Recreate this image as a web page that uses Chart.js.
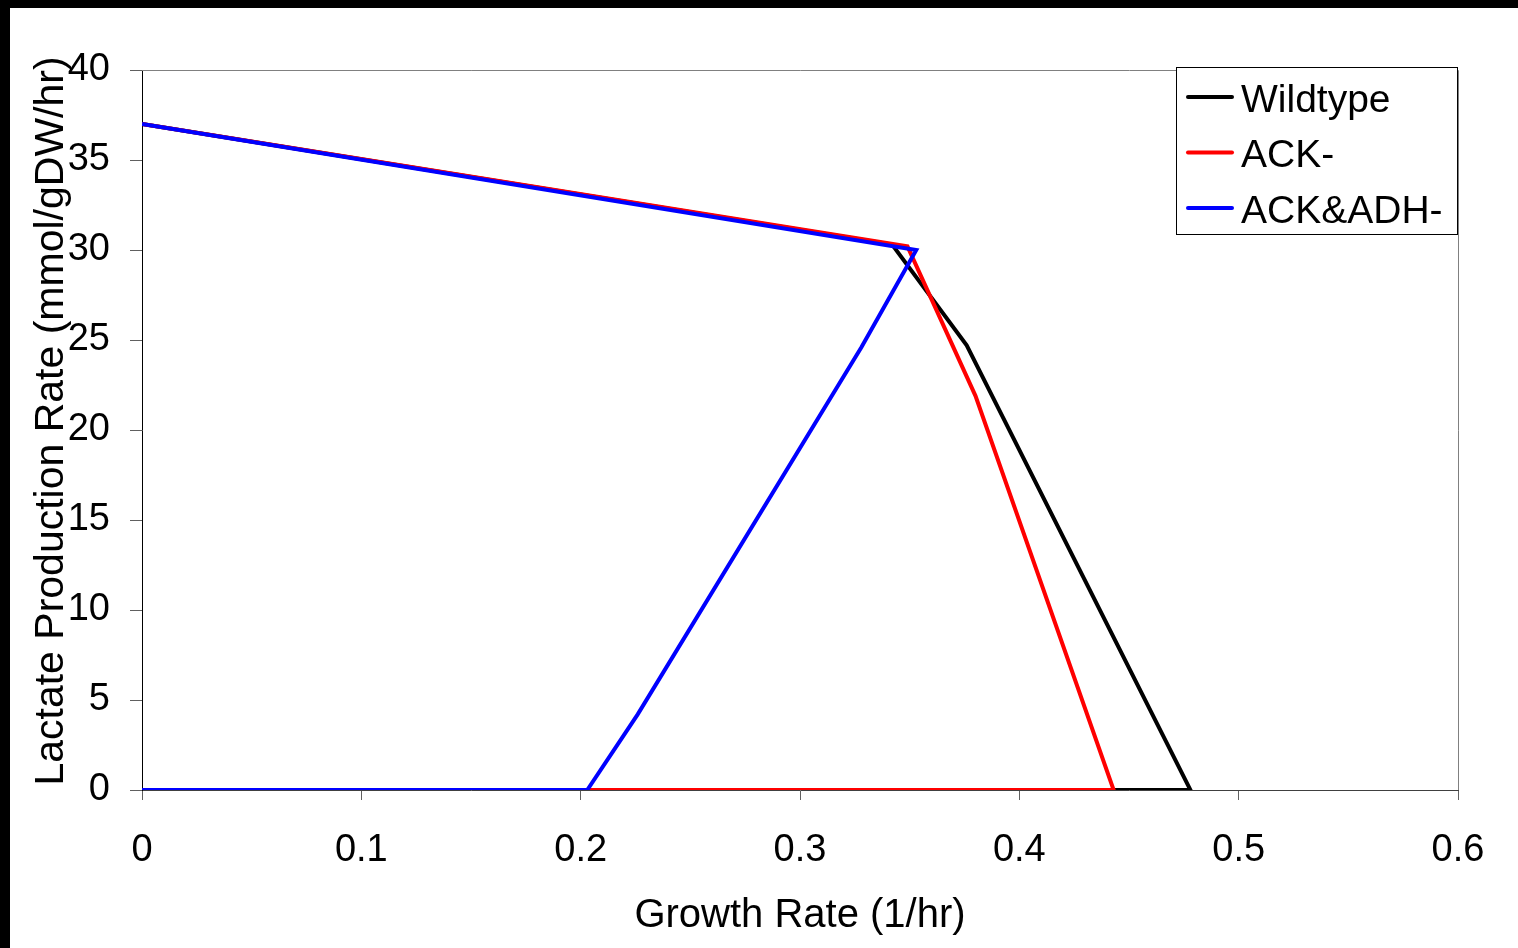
<!DOCTYPE html>
<html>
<head>
<meta charset="utf-8">
<script src="https://cdn.jsdelivr.net/npm/chart.js@4.4.0/dist/chart.umd.min.js"></script>
<style>
  html, body { margin: 0; padding: 0; background: #000; }
  #wrap { position: absolute; left: 10px; top: 8px; width: 1508px; height: 940px; background: #fff; }
</style>
</head>
<body>
<div id="wrap"><canvas id="phaseChart" width="1508" height="940"></canvas></div>
<script>
// Phenotype phase plane: lactate production vs growth rate
const seriesNames = ['Wildtype', 'ACK-', 'ACK&ADH-'];
const seriesColors = ['#000000', '#ff0000', '#0000ff'];

const wildX = [0, 0.342, 0.376, 0.478, 0];
const wildY = [37, 30.3, 24.7, 0, 0];
const ackX = [0, 0.349, 0.380, 0.443, 0];
const ackY = [37, 30.2, 21.9, 0, 0];
const ackAdhX = [0, 0.353, 0.328, 0.226, 0.203, 0];
const ackAdhY = [37, 30.0, 24.6, 4.2, 0, 0];

const xTickLabels = ['0', '0.1', '0.2', '0.3', '0.4', '0.5', '0.6'];
const yTickLabels = ['0', '5', '10', '15', '20', '25', '30', '35', '40'];
const yTitle = 'Lactate Production Rate (mmol/gDW/hr)';

const FONT = 'Liberation Sans, Arial, sans-serif';

function toPoints(xs, ys) {
  return xs.map((x, i) => ({ x: x, y: ys[i] }));
}

// grey frame on top/right of the plot area + rotated y title
const plotFrame = {
  id: 'plotFrame',
  afterDraw(chart) {
    const { ctx, chartArea: a } = chart;
    ctx.save();
    ctx.strokeStyle = '#808080';
    ctx.lineWidth = 1;
    ctx.beginPath();
    ctx.moveTo(a.left, a.top + 0.5);
    ctx.lineTo(a.right + 0.5, a.top + 0.5);
    ctx.lineTo(a.right + 0.5, a.bottom);
    ctx.stroke();

    ctx.translate(42, a.top + (a.bottom - a.top) / 2 - 9);
    ctx.rotate(-Math.PI / 2);
    ctx.font = '41px ' + FONT;
    ctx.fillStyle = '#000';
    ctx.textAlign = 'center';
    ctx.textBaseline = 'middle';
    ctx.fillText(yTitle, 0, 0);
    ctx.restore();
  }
};

const boxLegend = {
  id: 'boxLegend',
  afterDraw(chart) {
    const ctx = chart.ctx;
    const left = 1166, top = 59, w = 281, h = 167;
    ctx.save();
    ctx.fillStyle = '#fff';
    ctx.fillRect(left, top, w, h);
    ctx.strokeStyle = '#000';
    ctx.lineWidth = 1;
    ctx.strokeRect(left + 0.5, top + 0.5, w, h);
    ctx.font = '39px ' + FONT;
    ctx.textBaseline = 'middle';
    chart.data.datasets.forEach((ds, i) => {
      const cy = top + 30 + i * 55.5;
      ctx.strokeStyle = ds.borderColor;
      ctx.lineWidth = 4;
      ctx.lineCap = 'round';
      ctx.beginPath();
      ctx.moveTo(left + 12, cy);
      ctx.lineTo(left + 56, cy);
      ctx.stroke();
      ctx.fillStyle = '#000';
      ctx.fillText(ds.label, left + 65, cy + 4);
    });
    ctx.restore();
  }
};

const ctx = document.getElementById('phaseChart').getContext('2d');
new Chart(ctx, {
  type: 'line',
  data: {
    datasets: [
      { label: seriesNames[0], data: toPoints(wildX, wildY), borderColor: seriesColors[0], order: 2 },
      { label: seriesNames[1], data: toPoints(ackX, ackY), borderColor: seriesColors[1], order: 1 },
      { label: seriesNames[2], data: toPoints(ackAdhX, ackAdhY), borderColor: seriesColors[2], order: 0 }
    ]
  },
  options: {
    responsive: false,
    animation: false,
    elements: {
      line: { borderWidth: 4, tension: 0, borderJoinStyle: 'miter' },
      point: { radius: 0 }
    },
    layout: { padding: { left: 0, right: 60, top: 62, bottom: 0 } },
    scales: {
      x: {
        type: 'linear',
        min: 0,
        max: 0.6,
        afterFit(scale) { scale.height = 158; },
        ticks: {
          stepSize: 0.1,
          color: '#000',
          font: { family: FONT, size: 38 },
          padding: 28,
          maxRotation: 0,
          callback: (v, i) => xTickLabels[i]
        },
        grid: { drawOnChartArea: false, drawTicks: true, tickLength: 10, color: '#606060' },
        border: { color: '#404040', width: 1 },
        title: {
          display: true,
          text: 'Growth Rate (1/hr)',
          color: '#000',
          font: { family: FONT, size: 40 },
          padding: { top: 0, bottom: 8 }
        }
      },
      y: {
        min: 0,
        max: 40,
        afterFit(scale) { scale.width = 132; },
        ticks: {
          stepSize: 5,
          color: '#000',
          font: { family: FONT, size: 38 },
          padding: 20,
          callback: (v, i) => yTickLabels[i]
        },
        grid: { drawOnChartArea: false, drawTicks: true, tickLength: 12, color: '#606060' },
        border: { color: '#000', width: 1 },
        title: { display: false }
      }
    },
    plugins: {
      legend: { display: false },
      tooltip: { enabled: false }
    }
  },
  plugins: [plotFrame, boxLegend]
});
</script>
</body>
</html>
